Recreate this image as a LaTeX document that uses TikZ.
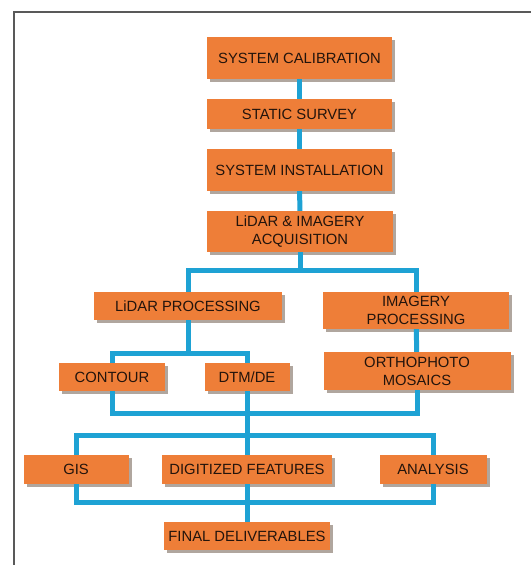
\documentclass[tikz,border=0pt]{standalone}
\usepackage{fontspec}
\setmainfont{Liberation Sans}
\usepackage{tikz}
\usetikzlibrary{shadows}
\definecolor{boxorange}{RGB}{238,126,56}
\definecolor{boxshade}{RGB}{176,166,158}
\definecolor{linkblue}{RGB}{30,162,212}
\definecolor{boxtext}{RGB}{35,20,12}
\tikzset{
  stage/.style={fill=boxorange, text=boxtext, inner sep=1pt, align=center,
    font=\fontsize{14.8}{18}\selectfont,
    general shadow={fill=boxshade, shadow xshift=3pt, shadow yshift=-3pt}},
  link/.style={linkblue, line width=5pt}
}
\begin{document}
\begin{tikzpicture}[x=1pt,y=-1pt]
\useasboundingbox (0,0) rectangle (531,565);
\draw[line width=2pt,black!65] (14,565) -- (14,12) -- (531,12);
\node[stage, minimum width=185pt, minimum height=42pt] (cal) at (299.5,58) {SYSTEM CALIBRATION};
\node[stage, minimum width=185pt, minimum height=30pt] (survey) at (299.5,114) {STATIC SURVEY};
\node[stage, minimum width=185pt, minimum height=42pt] (install) at (299.5,170) {SYSTEM INSTALLATION};
\node[stage, minimum width=186pt, minimum height=41pt] (acq) at (300,231.5) {LiDAR \& IMAGERY\\ACQUISITION};
\node[stage, minimum width=188pt, minimum height=28pt] (lproc) at (188,306) {LiDAR PROCESSING};
\node[stage, minimum width=186pt, minimum height=37pt] (iproc) at (416,310.5) {IMAGERY\\PROCESSING};
\node[stage, minimum width=106pt, minimum height=28pt] (contour) at (112,377) {CONTOUR};
\node[stage, minimum width=85pt, minimum height=28pt] (dtm) at (247,377) {DTM/DE};
\node[stage, minimum width=187pt, minimum height=38pt] (ortho) at (417,371) {ORTHOPHOTO\\MOSAICS};
\node[stage, minimum width=105pt, minimum height=29pt] (gis) at (76,469.5) {GIS};
\node[stage, minimum width=170pt, minimum height=29pt] (digit) at (247,469.5) {DIGITIZED FEATURES};
\node[stage, minimum width=107pt, minimum height=29pt] (analysis) at (433,469.5) {ANALYSIS};
\node[stage, minimum width=166pt, minimum height=28pt] (final) at (247,536) {FINAL DELIVERABLES};
\coordinate (split) at (300,270);
\coordinate (lsplit) at (188,353);
\coordinate (merge) at (247,413);
\coordinate (fan) at (247,435);
\coordinate (gather) at (247,502);
\draw[link] (cal) -- (survey);
\draw[link] (survey) -- (install);
\draw[link] (install) -- (acq);
\draw[link] (acq) -- (split);
\draw[link] (lproc.north) |- (split) -| (iproc.north);
\draw[link] (lproc) -- (lsplit);
\draw[link] (contour.north) |- (lsplit) -| (dtm.north);
\draw[link] (iproc) -- (ortho);
\draw[link] (contour.south) |- (merge) -| (ortho.south);
\draw[link] (dtm.south) -- (merge);
\draw[link] (merge) -- (fan);
\draw[link] (gis.north) |- (fan) -| (analysis.north);
\draw[link] (fan) -- (digit);
\draw[link] (gis.south) |- (gather) -| (analysis.south);
\draw[link] (digit) -- (final);
\end{tikzpicture}
\end{document}
